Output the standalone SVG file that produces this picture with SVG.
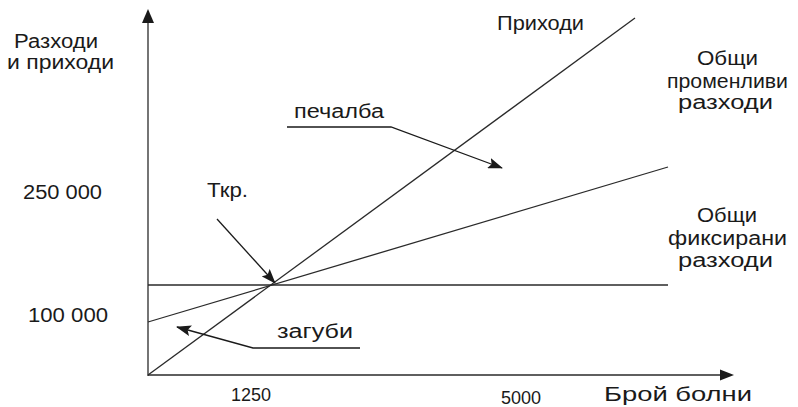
<svg xmlns="http://www.w3.org/2000/svg" width="798" height="407" viewBox="0 0 798 407">
<style>
text{font-family:"Liberation Sans",Arial,sans-serif;font-size:20px;fill:#1a1a1a}
.ln{stroke:#2a2a2a;stroke-width:1.3;fill:none}
.ar{stroke:#1a1a1a;stroke-width:1.3;fill:none;marker-end:url(#ah)}
.num{font-size:18px}
</style>
<defs>
<marker id="ah" markerWidth="15" markerHeight="11" refX="14" refY="5.5" orient="auto" markerUnits="userSpaceOnUse">
<path d="M0,0 L15,5.5 L0,11 L3,5.5 Z" fill="#1a1a1a"/>
</marker>
</defs>
<rect width="798" height="407" fill="#ffffff"/>
<g id="axes">
<line class="ln" x1="148" y1="376" x2="148" y2="20"/>
<path d="M148,9 L154,23 L142,23 Z" fill="#1a1a1a"/>
<line class="ln" x1="148" y1="375" x2="722" y2="375"/>
<path d="M734,375 L720,369.5 L720,380.5 Z" fill="#1a1a1a"/>
</g>
<g id="lines">
<line id="revenue" class="ln" x1="148" y1="375" x2="635" y2="18"/>
<line id="variable" class="ln" x1="148" y1="322" x2="668" y2="167"/>
<line id="fixed" class="ln" x1="148" y1="285" x2="668" y2="285" stroke="#444"/>
</g>
<g id="connectors">
<line class="ar" x1="217" y1="219" x2="275" y2="283"/>
<polyline class="ar" points="287,127 391,127 502,168"/>
<polyline class="ar" points="360,348 253,348 177,327"/>
</g>
<g id="labels">
<text x="14" y="48" textLength="84" lengthAdjust="spacingAndGlyphs">Разходи</text>
<text x="7" y="69" textLength="107" lengthAdjust="spacingAndGlyphs">и приходи</text>
<text x="23" y="199" textLength="79" lengthAdjust="spacingAndGlyphs">250 000</text>
<text x="28" y="322" textLength="80" lengthAdjust="spacingAndGlyphs">100 000</text>
<text x="207" y="197" textLength="41" lengthAdjust="spacingAndGlyphs">Ткр.</text>
<text x="497" y="30" textLength="87" lengthAdjust="spacingAndGlyphs">Приходи</text>
<text x="294" y="118" textLength="90" lengthAdjust="spacingAndGlyphs">печалба</text>
<text x="277" y="338" textLength="76" lengthAdjust="spacingAndGlyphs">загуби</text>
<text x="697" y="65" textLength="61" lengthAdjust="spacingAndGlyphs">Общи</text>
<text x="667" y="88" textLength="121" lengthAdjust="spacingAndGlyphs">променливи</text>
<text x="678" y="109" textLength="95" lengthAdjust="spacingAndGlyphs">разходи</text>
<text x="697" y="222" textLength="60" lengthAdjust="spacingAndGlyphs">Общи</text>
<text x="668" y="245" textLength="119" lengthAdjust="spacingAndGlyphs">фиксирани</text>
<text x="678" y="267" textLength="95" lengthAdjust="spacingAndGlyphs">разходи</text>
<text class="num" x="231" y="401">1250</text>
<text class="num" x="501" y="404">5000</text>
<text x="604" y="401" textLength="148" lengthAdjust="spacingAndGlyphs">Брой болни</text>
</g>
</svg>
